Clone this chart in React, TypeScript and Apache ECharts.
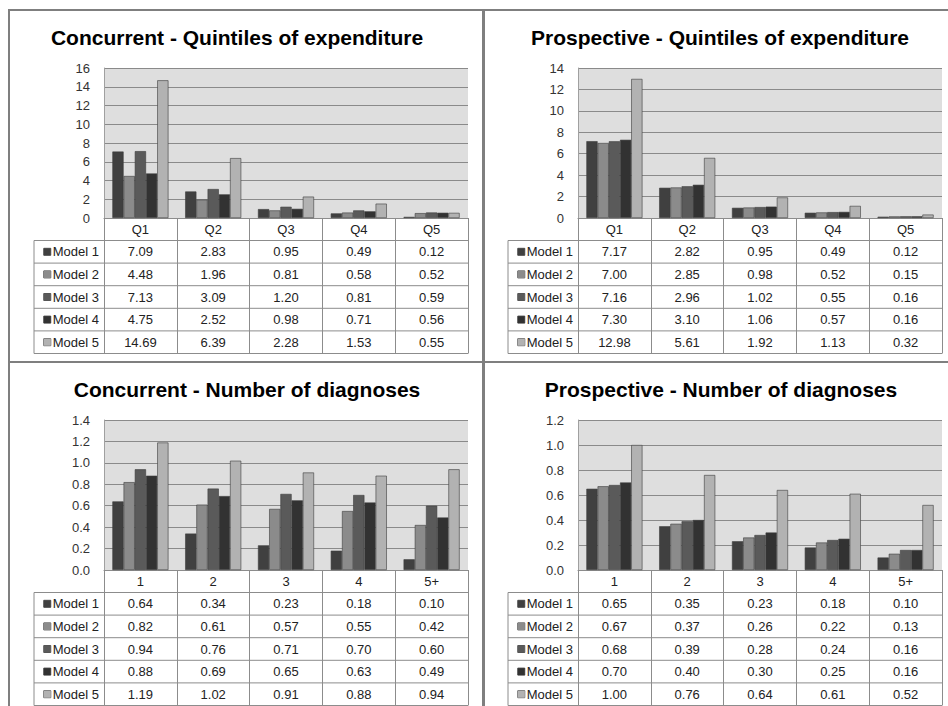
import React, { useEffect, useRef } from "react";
import * as echarts from "echarts";

const quintileCategories = ["Q1", "Q2", "Q3", "Q4", "Q5"];
const diagnosisCategories = ["1", "2", "3", "4", "5+"];
const modelNames = ["Model 1", "Model 2", "Model 3", "Model 4", "Model 5"];

const concurrentQuintiles = [
  [7.09, 2.83, 0.95, 0.49, 0.12],
  [4.48, 1.96, 0.81, 0.58, 0.52],
  [7.13, 3.09, 1.2, 0.81, 0.59],
  [4.75, 2.52, 0.98, 0.71, 0.56],
  [14.69, 6.39, 2.28, 1.53, 0.55],
];
const prospectiveQuintiles = [
  [7.17, 2.82, 0.95, 0.49, 0.12],
  [7.0, 2.85, 0.98, 0.52, 0.15],
  [7.16, 2.96, 1.02, 0.55, 0.16],
  [7.3, 3.1, 1.06, 0.57, 0.16],
  [12.98, 5.61, 1.92, 1.13, 0.32],
];
const concurrentDiagnoses = [
  [0.64, 0.34, 0.23, 0.18, 0.1],
  [0.82, 0.61, 0.57, 0.55, 0.42],
  [0.94, 0.76, 0.71, 0.7, 0.6],
  [0.88, 0.69, 0.65, 0.63, 0.49],
  [1.19, 1.02, 0.91, 0.88, 0.94],
];
const prospectiveDiagnoses = [
  [0.65, 0.35, 0.23, 0.18, 0.1],
  [0.67, 0.37, 0.26, 0.22, 0.13],
  [0.68, 0.39, 0.28, 0.24, 0.16],
  [0.7, 0.4, 0.3, 0.25, 0.16],
  [1.0, 0.76, 0.64, 0.61, 0.52],
];

const modelColors = ["#404040", "#8b8b8b", "#5a5a5a", "#323232", "#b2b2b2"];

const FONT = "'Liberation Sans', Arial, sans-serif";
const PLOT_LEFT = 104;
const PLOT_TOP = 68;
const PLOT_W = 364;
const PLOT_H = 150;
const HEADER_H = 22.5;
const ROW_H = 22.6;
const LABEL_LEFT = 34;
const LINE = "#8c8c8c";
const FS = 13;

const panels = [
  { title: "Concurrent - Quintiles of expenditure", cats: quintileCategories, values: concurrentQuintiles, yMax: 16, yStep: 2, yDec: 0, ox: 0, oy: 0, titleX: 237 },
  { title: "Prospective - Quintiles of expenditure", cats: quintileCategories, values: prospectiveQuintiles, yMax: 14, yStep: 2, yDec: 0, ox: 474, oy: 0, titleX: 720 },
  { title: "Concurrent - Number of diagnoses", cats: diagnosisCategories, values: concurrentDiagnoses, yMax: 1.4, yStep: 0.2, yDec: 1, ox: 0, oy: 352, titleX: 247 },
  { title: "Prospective - Number of diagnoses", cats: diagnosisCategories, values: prospectiveDiagnoses, yMax: 1.2, yStep: 0.2, yDec: 1, ox: 474, oy: 352, titleX: 721 },
];

function buildOption() {
  const title: any[] = [];
  const grid: any[] = [];
  const xAxis: any[] = [];
  const yAxis: any[] = [];
  const series: any[] = [];
  const graphic: any[] = [];

  graphic.push(
    { type: "rect", shape: { x: 9, y: 10, width: 474, height: 352 }, style: { fill: "none", stroke: "#7f7f7f", lineWidth: 2 }, silent: true },
    { type: "rect", shape: { x: 484, y: 10, width: 470, height: 352 }, style: { fill: "none", stroke: "#7f7f7f", lineWidth: 2 }, silent: true },
    { type: "rect", shape: { x: 9, y: 362, width: 474, height: 360 }, style: { fill: "none", stroke: "#7f7f7f", lineWidth: 2 }, silent: true },
    { type: "rect", shape: { x: 484, y: 362, width: 470, height: 360 }, style: { fill: "none", stroke: "#7f7f7f", lineWidth: 2 }, silent: true }
  );

  panels.forEach((p, pi) => {
    title.push({
      text: p.title,
      left: p.titleX,
      top: 27 + p.oy,
      textAlign: "center",
      padding: 0,
      textStyle: { fontSize: 21, fontWeight: "bold", color: "#000", fontFamily: FONT },
    });
    grid.push({
      left: PLOT_LEFT + p.ox,
      top: PLOT_TOP + p.oy,
      width: PLOT_W,
      height: PLOT_H,
      show: true,
      backgroundColor: "#dedede",
      borderWidth: 0,
    });
    xAxis.push({
      type: "category",
      gridIndex: pi,
      data: p.cats,
      position: "bottom",
      axisLine: { show: true, lineStyle: { color: LINE, width: 1 } },
      axisTick: { show: true, alignWithLabel: false, interval: 0, length: HEADER_H + 5 * ROW_H, lineStyle: { color: LINE } },
      axisLabel: { interval: 0, margin: HEADER_H / 2, verticalAlign: "middle", fontSize: FS, color: "#222", fontFamily: FONT },
      splitLine: { show: false },
    });
    p.values.forEach((row, r) => {
      xAxis.push({
        type: "category",
        gridIndex: pi,
        data: p.cats,
        position: "bottom",
        offset: HEADER_H + (r + 0.5) * ROW_H,
        axisLine: { show: false },
        axisTick: { show: false },
        splitLine: { show: false },
        axisLabel: {
          interval: 0,
          margin: 0,
          verticalAlign: "middle",
          fontSize: FS,
          color: "#222",
          fontFamily: FONT,
          formatter: (_v: string, idx: number) => row[idx].toFixed(2),
        },
        name: `{sq|}{t|${modelNames[r]}}`,
        nameLocation: "start",
        nameGap: 5,
        nameTextStyle: {
          fontFamily: FONT,
          fontSize: FS,
          color: "#222",
          rich: {
            sq: { width: 7, height: 7, backgroundColor: modelColors[r], borderColor: "#505050", borderWidth: 0.5 },
            t: { fontSize: FS, color: "#222", fontFamily: FONT, padding: [0, 0, 0, 2] },
          },
        },
      });
    });
    yAxis.push({
      type: "value",
      gridIndex: pi,
      min: 0,
      max: p.yMax,
      interval: p.yStep,
      axisLine: { show: true, lineStyle: { color: "#a0a0a0" } },
      axisTick: { show: false },
      splitLine: { show: true, lineStyle: { color: "#8a8a8a", width: 1 } },
      axisLabel: {
        margin: 14,
        fontSize: FS,
        color: "#333",
        fontFamily: FONT,
        formatter: (v: number) => v.toFixed(p.yDec),
      },
    });
    p.values.forEach((row, r) => {
      series.push({
        type: "bar",
        name: modelNames[r],
        xAxisIndex: pi * 6,
        yAxisIndex: pi,
        data: row,
        barGap: "0%",
        barCategoryGap: "23%",
        itemStyle: { color: modelColors[r], borderColor: "#3c3c3c", borderWidth: 0.6 },
      });
    });

    const tableTop = PLOT_TOP + p.oy + PLOT_H + HEADER_H;
    for (let i = 0; i <= 5; i++) {
      const y = tableTop + i * ROW_H;
      graphic.push({
        type: "line",
        shape: { x1: LABEL_LEFT + p.ox, y1: y, x2: PLOT_LEFT + PLOT_W + p.ox, y2: y },
        style: { stroke: LINE, lineWidth: 1 },
        silent: true,
      });
    }
    graphic.push({
      type: "line",
      shape: { x1: LABEL_LEFT + p.ox, y1: tableTop, x2: LABEL_LEFT + p.ox, y2: tableTop + 5 * ROW_H },
      style: { stroke: LINE, lineWidth: 1 },
      silent: true,
    });
  });

  return {
    animation: false,
    backgroundColor: "#ffffff",
    textStyle: { fontFamily: FONT },
    title,
    grid,
    xAxis,
    yAxis,
    series,
    graphic,
  };
}

export default function App() {
  const ref = useRef<HTMLDivElement>(null);
  useEffect(() => {
    if (!ref.current) return;
    const chart = echarts.init(ref.current, null, { renderer: "svg" });
    chart.setOption(buildOption() as any);
    return () => chart.dispose();
  }, []);
  return (
    <div
      ref={ref}
      style={{ position: "absolute", left: 0, top: 0, width: 948, height: 706, background: "#fff" }}
    />
  );
}
